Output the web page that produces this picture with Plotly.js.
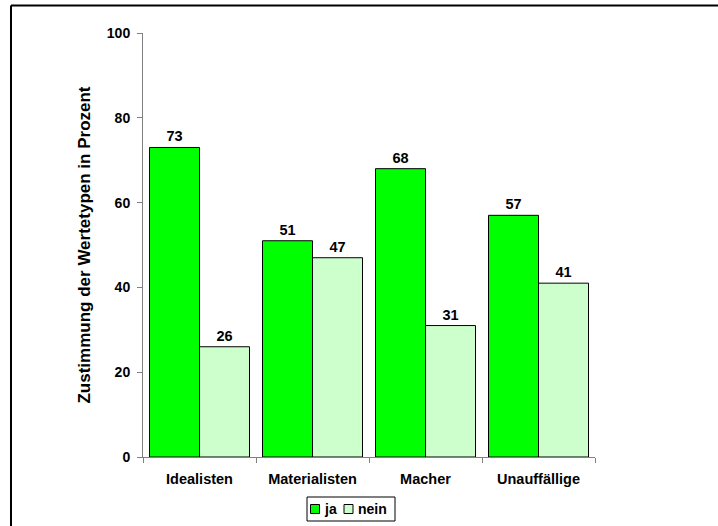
<!DOCTYPE html>
<html>
<head>
<meta charset="utf-8">
<script src="https://cdn.plot.ly/plotly-3.0.1.min.js"></script>
<style>html,body{margin:0;padding:0;background:#fff;}#chart{width:718px;height:526px;}</style>
</head>
<body>
<div id="chart"></div>
<script>
const categories = ["Idealisten", "Materialisten", "Macher", "Unauffällige"];
const jaValues = [73, 51, 68, 57];
const neinValues = [26, 47, 31, 41];
const seriesNames = ["ja", "nein"];
const yTickValues = [0, 20, 40, 60, 80, 100];
const yTitle = "Zustimmung der Wertetypen in Prozent";

const FONT = "Liberation Sans, Arial, sans-serif";
const COLORS = ["#00FF00", "#CCFFCC"];
const textFont = {family: FONT, size: 14.5, color: "#000", weight: "bold"};

const seriesValues = [jaValues, neinValues];
const traces = seriesNames.map((name, i) => ({
  type: "bar", name: name, x: categories, y: seriesValues[i],
  marker: {color: COLORS[i], line: {color: "#000", width: 1}},
  text: seriesValues[i].map(String), textposition: "outside",
  textfont: textFont, cliponaxis: false, hoverinfo: "x+y"
}));

// plot area geometry (pixels)
const W = 718, H = 526, L = 143, R = 123, T = 33, B = 69;
const PW = W - L - R, PH = H - T - B;
const px = x => (x - L) / PW;
const py = y => (H - B - y) / PH;

// custom legend (frame + swatches + labels)
const legBox = {x0: 307, x1: 395, y0: 497, y1: 521};
const swatchX = [310.5, 344];
const labelX = [322, 356];
const legendShapes = [
  {type: "rect", xref: "paper", yref: "paper", x0: px(legBox.x0), x1: px(legBox.x1),
   y0: py(legBox.y1), y1: py(legBox.y0), line: {color: "#000", width: 1}, fillcolor: "#fff"}
];
const legendAnnotations = [];
seriesNames.forEach((name, i) => {
  legendShapes.push({type: "rect", xref: "paper", yref: "paper",
    x0: px(swatchX[i]), x1: px(swatchX[i] + 9), y0: py(513.5), y1: py(504.5),
    line: {color: "#000", width: 1}, fillcolor: COLORS[i]});
  legendAnnotations.push({xref: "paper", yref: "paper", x: px(labelX[i]), y: py(509),
    xanchor: "left", yanchor: "middle", showarrow: false, text: name,
    font: {family: FONT, size: 14, color: "#000", weight: "bold"}});
});

const layout = {
  width: W, height: H,
  margin: {l: L, r: R, t: T, b: B},
  paper_bgcolor: "#fff", plot_bgcolor: "#fff",
  barmode: "group", bargap: 0.115, bargroupgap: 0,
  font: {family: FONT, size: 14, color: "#000"},
  showlegend: false,
  xaxis: {
    automargin: false,
    showline: true, linecolor: "#808080", linewidth: 1,
    ticks: "outside", ticklen: 5, tickcolor: "#808080", tickson: "boundaries",
    showgrid: false, zeroline: false,
    tickfont: {family: FONT, size: 14.5, color: "#000", weight: "bold"},
    ticklabelstandoff: 9
  },
  yaxis: {
    automargin: false,
    range: [0, 100], tickvals: yTickValues, ticktext: yTickValues.map(String),
    showline: true, linecolor: "#808080", linewidth: 1,
    ticks: "outside", ticklen: 5, tickcolor: "#808080",
    showgrid: false, zeroline: false,
    tickfont: {family: FONT, size: 14, color: "#000", weight: "bold"},
    ticklabelstandoff: 4,
    title: {text: yTitle, font: {family: FONT, size: 17, color: "#000", weight: "bold"}, standoff: 11}
  },
  annotations: legendAnnotations,
  shapes: [
    {type: "line", xref: "paper", yref: "paper", x0: px(11), x1: px(720),
     y0: py(5.5), y1: py(5.5), line: {color: "#000", width: 2}},
    {type: "line", xref: "paper", yref: "paper", x0: px(11), x1: px(11),
     y0: py(5.5), y1: py(530), line: {color: "#000", width: 2}}
  ].concat(legendShapes)
};

Plotly.newPlot("chart", traces, layout, {displayModeBar: false, staticPlot: true});
</script>
</body>
</html>
